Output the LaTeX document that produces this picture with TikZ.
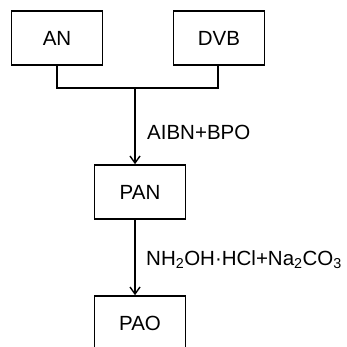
\documentclass[tikz,border=0pt]{standalone}
\usepackage{fontspec}
\setmainfont{Liberation Sans}
\usetikzlibrary{arrows.meta}
\begin{document}
\begin{tikzpicture}[x=1pt,y=-1pt,
  box/.style={draw,line width=1.6pt,minimum width=91pt,minimum height=54pt,inner sep=0pt,font=\fontsize{20.5}{22}\selectfont},
  conn/.style={line width=1.6pt},
  arr/.style={conn,-{Straight Barb[length=7pt,width=10pt,line width=1.4pt]}},
  lab/.style={font=\fontsize{20.5}{22}\selectfont,anchor=west,inner sep=0pt}]
\clip (0,0) rectangle (346,347);
\useasboundingbox (0,0) rectangle (346,347);
\node[box] (an) at (57,38) {AN};
\node[box] (dvb) at (219,38) {DVB};
\node[box] (pan) at (140,192) {PAN};
\node[box] (pao) at (140,323) {PAO};
\coordinate (j) at (135,88);
\draw[conn] (an.south -| 57,0) |- (j) -| (dvb.south -| 218,0);
\draw[arr] (j) -- (j |- pan.north);
\draw[arr] (pan.south -| j) -- (pao.north -| j);
\node[lab] (l1) at (147,132) {AIBN+BPO};
\node[lab] (l2) at (146,260) {NH\textsubscript{2}OH·HCl+Na\textsubscript{2}CO\textsubscript{3}};
\end{tikzpicture}
\end{document}
